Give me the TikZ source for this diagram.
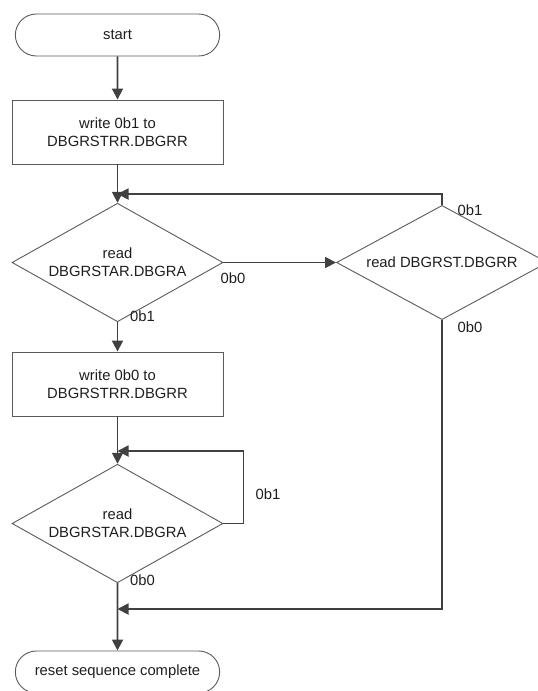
\documentclass[tikz,border=0pt]{standalone}
\usepackage{fontspec}
\setmainfont{Liberation Sans}
\usepackage{xcolor}
\usepackage{tikz}
\usetikzlibrary{shapes.geometric,shapes.misc,arrows.meta}
\definecolor{edgegray}{HTML}{5A5A5A}
\definecolor{flowgray}{HTML}{404040}
\definecolor{textgray}{HTML}{1E1E1E}
\tikzset{
  % --- flowchart shapes ---
  term/.style={rounded rectangle, draw=edgegray, line width=0.9pt,
               minimum width=211pt, minimum height=42pt, text=textgray},
  opbox/.style={rectangle, draw=edgegray, line width=0.9pt, align=center,
                minimum width=211pt, minimum height=64pt, text=textgray},
  % negative inner sep: the text may run past the diamond edges
  decision/.style={diamond, draw=edgegray, line width=0.9pt, align=center,
                   minimum width=211pt, minimum height=83pt, inner sep=-12pt,
                   text=textgray},
  choice/.style={text=textgray, inner sep=0pt},
  % --- connectors ---
  flow/.style={-{Triangle[length=11pt,width=11pt]}, line width=1.8pt,
               draw=flowgray},
}
\begin{document}
\begin{tikzpicture}[x=1pt,y=-1pt,
    font=\fontsize{14.8}{17.8}\selectfont]
  \path[use as bounding box,clip] (0,0) rectangle (538,691);
  % main column
  \node[term]     (start) at (117.5,35)    {start};
  \node[opbox]    (wr1)   at (117.5,132)   {write 0b1 to\\DBGRSTRR.DBGRR};
  \node[decision] (rd1)   at (117.5,262.5) {read\\DBGRSTAR.DBGRA};
  \node[decision] (rd2)   at (442,262.5)   {read DBGRST.DBGRR};
  \node[opbox]    (wr2)   at (117.5,384)   {write 0b0 to\\DBGRSTRR.DBGRR};
  \node[decision] (rd3)   at (117.5,523.5) {read\\DBGRSTAR.DBGRA};
  \node[term]     (done)  at (117.5,672)   {reset sequence complete};
  % merge points on the main column
  \coordinate (m1) at (117.5,194);
  \coordinate (m2) at (117.5,451);
  \coordinate (m3) at (117.5,609);
  % branch labels
  \node[choice] (rd1no)  at (233,278)   {0b0};
  \node[choice] (rd1yes) at (142.5,316) {0b1};
  \node[choice] (rd2yes) at (470,210)   {0b1};
  \node[choice] (rd2no)  at (470,327)   {0b0};
  \node[choice] (rd3yes) at (268,494)   {0b1};
  \node[choice] (rd3no)  at (142.5,580) {0b0};
  % connectors
  \draw[flow] (start) -- (wr1);
  \draw[flow] (wr1) -- (rd1);
  \draw[flow] (rd1.east) -- (rd2.west);
  \draw[flow] (rd2.north) |- (m1);
  \draw[flow] (rd1) -- (wr2);
  \draw[flow] (wr2) -- (rd3);
  \draw[flow] (rd3.east) -- ++(20,0) |- (m2);
  \draw[flow] (rd3) -- (done);
  \draw[flow] (rd2.south) |- (m3);
\end{tikzpicture}
\end{document}
